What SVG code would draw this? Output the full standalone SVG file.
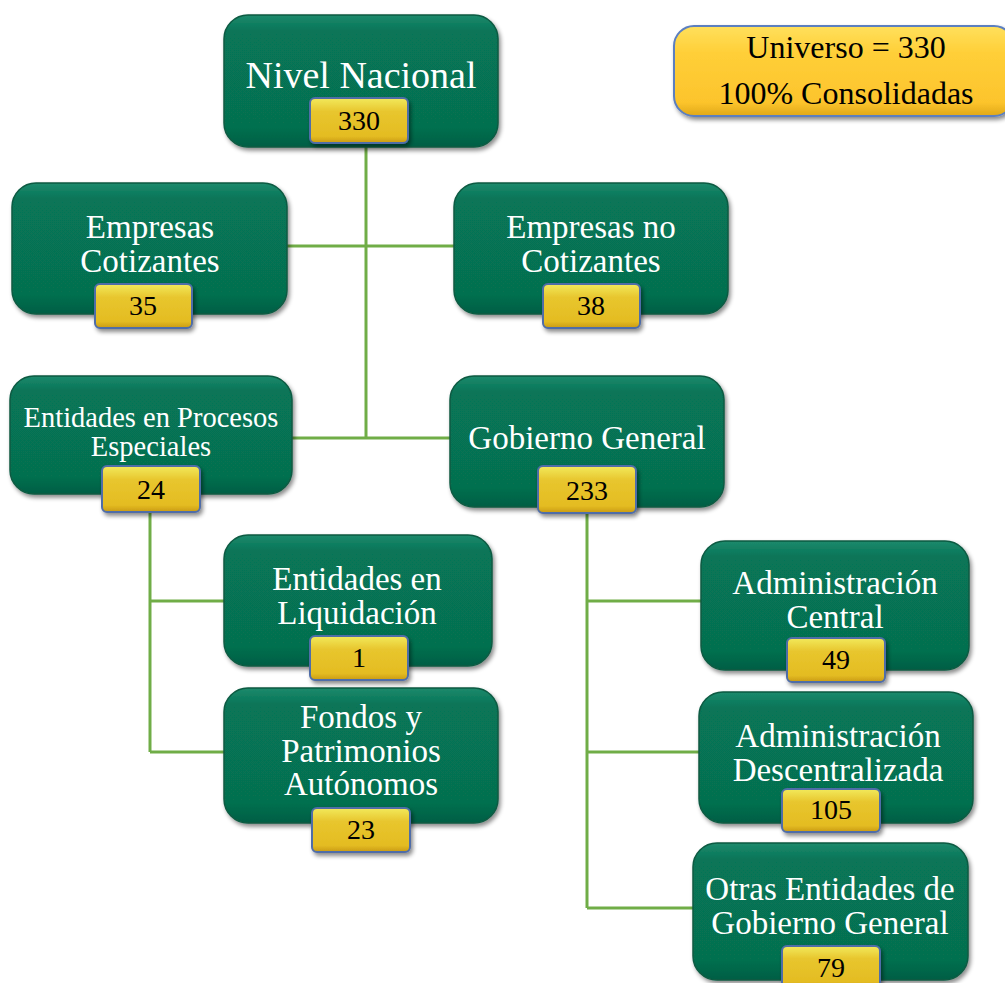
<svg xmlns="http://www.w3.org/2000/svg" width="1005" height="983" viewBox="0 0 1005 983">
<defs>
<linearGradient id="gG" x1="0" y1="0" x2="0" y2="1">
<stop offset="0" stop-color="#1D8A6C"/>
<stop offset="0.12" stop-color="#077558"/>
<stop offset="0.85" stop-color="#06704F"/>
<stop offset="1" stop-color="#055E44"/>
</linearGradient>
<linearGradient id="gY" x1="0" y1="0" x2="0" y2="1">
<stop offset="0" stop-color="#F2EA5C"/>
<stop offset="0.3" stop-color="#E8C62E"/>
<stop offset="0.85" stop-color="#E4BC22"/>
<stop offset="1" stop-color="#C99A14"/>
</linearGradient>
<linearGradient id="gL" x1="0" y1="0" x2="0" y2="1">
<stop offset="0" stop-color="#FFE05C"/>
<stop offset="0.3" stop-color="#FFCF38"/>
<stop offset="0.85" stop-color="#FCC42C"/>
<stop offset="1" stop-color="#E0A818"/>
</linearGradient>
<filter id="sh" x="-10%" y="-10%" width="125%" height="130%">
<feDropShadow dx="2" dy="3" stdDeviation="2" flood-color="#000" flood-opacity="0.45"/>
</filter>
</defs>
<style>
.g{fill:url(#gG);stroke:#0A5A42;stroke-width:1.5;filter:url(#sh)}
.y{fill:url(#gY);stroke:#4F6DA8;stroke-width:2;filter:url(#sh)}
.l{fill:url(#gL);stroke:#5B7FC0;stroke-width:2;filter:url(#sh)}
.t{font-family:"Liberation Serif","Times New Roman",serif;fill:#FFFFFF;text-anchor:middle;font-size:33px}
.n{font-family:"Liberation Serif","Times New Roman",serif;fill:#000000;text-anchor:middle;font-size:28px}
.c{stroke:#70AD47;stroke-width:3;fill:none}
</style>
<g id="connectors">
<path class="c" d="M366 147 V438"/>
<path class="c" d="M287 246 H454"/>
<path class="c" d="M292 438 H450"/>
<path class="c" d="M150 512 V752"/>
<path class="c" d="M150 601 H224"/>
<path class="c" d="M150 752 H224"/>
<path class="c" d="M587 513 V908"/>
<path class="c" d="M587 601 H701"/>
<path class="c" d="M587 752 H699"/>
<path class="c" d="M587 908 H693"/>
</g>
<g id="legend">
<rect class="l" x="674" y="26" width="340" height="90" rx="20"/>
<text class="n" x="846" y="58" style="font-size:32px">Universo = 330</text>
<text class="n" x="846" y="104" style="font-size:32px">100% Consolidadas</text>
</g>
<g id="nivel-nacional">
<rect class="g" x="224" y="15" width="274" height="132" rx="24"/>
<text class="t" x="361" y="88" style="font-size:38px">Nivel Nacional</text>
<rect class="y" x="310" y="98" width="98" height="45" rx="5"/>
<text class="n" x="359" y="130">330</text>
</g>
<g id="empresas-cotizantes">
<rect class="g" x="12" y="183" width="275" height="131" rx="24"/>
<text class="t" x="150" y="238">Empresas</text>
<text class="t" x="150" y="272">Cotizantes</text>
<rect class="y" x="95" y="284" width="97" height="44" rx="5"/>
<text class="n" x="143" y="315">35</text>
</g>
<g id="empresas-no-cotizantes">
<rect class="g" x="454" y="183" width="274" height="131" rx="24"/>
<text class="t" x="591" y="238">Empresas no</text>
<text class="t" x="591" y="272">Cotizantes</text>
<rect class="y" x="543" y="284" width="97" height="44" rx="5"/>
<text class="n" x="591" y="315">38</text>
</g>
<g id="entidades-procesos-especiales">
<rect class="g" x="10" y="376" width="282" height="118" rx="24"/>
<text class="t" x="151" y="427" style="font-size:28.5px">Entidades en Procesos</text>
<text class="t" x="151" y="456" style="font-size:28.5px">Especiales</text>
<rect class="y" x="102" y="466" width="98" height="46" rx="5"/>
<text class="n" x="151" y="499">24</text>
</g>
<g id="gobierno-general">
<rect class="g" x="450" y="376" width="274" height="131" rx="24"/>
<text class="t" x="587" y="449">Gobierno General</text>
<rect class="y" x="538" y="466" width="98" height="47" rx="5"/>
<text class="n" x="587" y="500">233</text>
</g>
<g id="entidades-liquidacion">
<rect class="g" x="224" y="535" width="268" height="131" rx="24"/>
<text class="t" x="357" y="590">Entidades en</text>
<text class="t" x="357" y="624">Liquidación</text>
<rect class="y" x="310" y="636" width="98" height="44" rx="5"/>
<text class="n" x="359" y="667">1</text>
</g>
<g id="fondos-patrimonios">
<rect class="g" x="224" y="688" width="274" height="135" rx="24"/>
<text class="t" x="361" y="728">Fondos y</text>
<text class="t" x="361" y="762">Patrimonios</text>
<text class="t" x="361" y="795">Autónomos</text>
<rect class="y" x="312" y="808" width="98" height="44" rx="5"/>
<text class="n" x="361" y="839">23</text>
</g>
<g id="administracion-central">
<rect class="g" x="701" y="541" width="268" height="129" rx="24"/>
<text class="t" x="835" y="594">Administración</text>
<text class="t" x="835" y="628">Central</text>
<rect class="y" x="787" y="638" width="98" height="44" rx="5"/>
<text class="n" x="836" y="669">49</text>
</g>
<g id="administracion-descentralizada">
<rect class="g" x="699" y="692" width="274" height="131" rx="24"/>
<text class="t" x="838" y="747">Administración</text>
<text class="t" x="838" y="781">Descentralizada</text>
<rect class="y" x="782" y="789" width="98" height="43" rx="5"/>
<text class="n" x="831" y="819">105</text>
</g>
<g id="otras-entidades">
<rect class="g" x="693" y="843" width="275" height="137" rx="24"/>
<text class="t" x="830" y="900">Otras Entidades de</text>
<text class="t" x="830" y="934">Gobierno General</text>
<rect class="y" x="782" y="946" width="98" height="42" rx="5"/>
<text class="n" x="831" y="977">79</text>
</g>
</svg>
